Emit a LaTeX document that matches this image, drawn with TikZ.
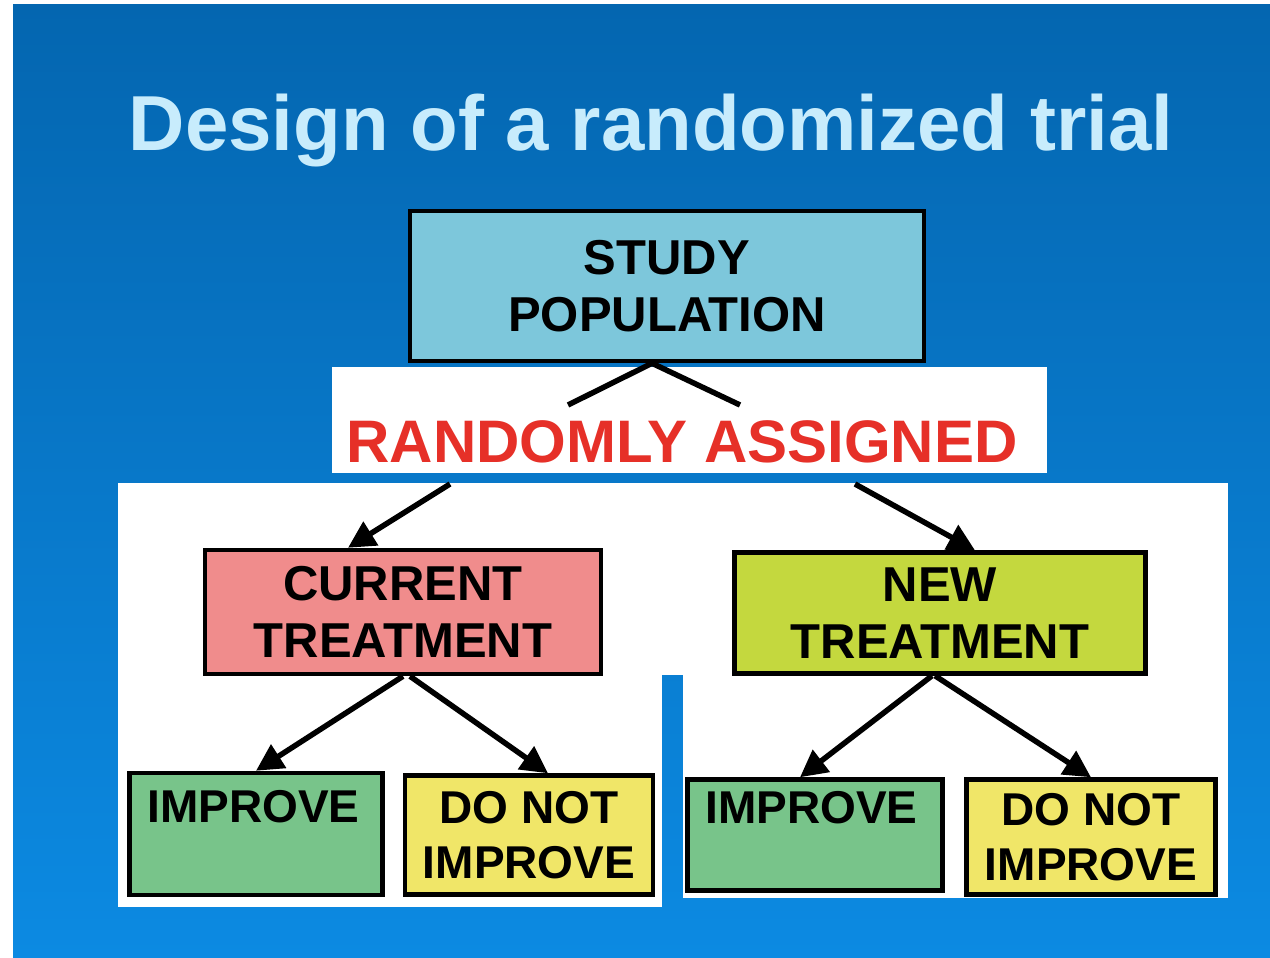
\documentclass[tikz,border=0pt]{standalone}
\usepackage{fontspec}
\setmainfont{Liberation Sans}
\usetikzlibrary{arrows.meta}

\definecolor{bgtop}{RGB}{4,102,176}
\definecolor{bgmid}{RGB}{5,106,182}
\definecolor{bgbottom}{RGB}{12,138,226}
\definecolor{titleblue}{RGB}{200,236,252}
\definecolor{studyblue}{RGB}{125,199,219}
\definecolor{currentred}{RGB}{240,140,140}
\definecolor{newgreen}{RGB}{196,216,62}
\definecolor{improvegreen}{RGB}{120,196,138}
\definecolor{notyellow}{RGB}{240,230,104}
\definecolor{randred}{RGB}{230,48,40}

\begin{document}
\begin{tikzpicture}[x=1pt,y=-1pt,
  box/.style={draw=black, line width=4.5pt, inner sep=0pt, align=center,
    font=\bfseries\fontsize{49}{57}\selectfont},
  smallbox/.style={box, inner xsep=18pt, font=\bfseries\fontsize{46}{55}\selectfont},
  arr/.style={line width=5.5pt, -{Triangle[length=27pt,width=27pt]}}]

% background
\useasboundingbox (0,0) rectangle (1270,958);
\fill[white] (0,0) rectangle (1270,958);
\shade[top color=bgtop, middle color=bgmid, bottom color=bgbottom] (13,5) rectangle (1270,958);

% title
\node[anchor=base, text=titleblue, font=\bfseries\fontsize{78}{78}\selectfont] (title) at (651,150) {Design of a randomized trial};

% white panels
\fill[white] (332,367) rectangle (1047,473);
\fill[white] (118,483) rectangle (1228,675);
\fill[white] (118,675) rectangle (662,907);
\fill[white] (683,675) rectangle (1228,898);

% study population
\node[box, fill=studyblue, minimum width=514pt, minimum height=150pt] (study) at (667,286) {STUDY\\POPULATION};

% treatments
\node[box, fill=currentred, minimum width=396pt, minimum height=124pt] (current) at (403,612) {CURRENT\\TREATMENT};
\node[box, fill=newgreen, minimum width=411pt, minimum height=121pt] (new) at (940,613) {NEW\\TREATMENT};

% outcomes
\node[smallbox, fill=improvegreen, align=left, text width=217pt, minimum width=253pt, minimum height=122pt] (impL) at (256,834) {IMPROVE\\\mbox{}};
\node[smallbox, fill=notyellow, minimum width=238pt, minimum height=119pt] (notL) at (529,835) {DO NOT\\IMPROVE};
\node[smallbox, fill=improvegreen, align=left, text width=219pt, minimum width=255pt, minimum height=111pt] (impR) at (815,835) {IMPROVE\\\mbox{}};
\node[smallbox, fill=notyellow, minimum width=249pt, minimum height=115pt] (notR) at (1091,837) {DO NOT\\IMPROVE};

% randomly assigned
\node[anchor=base, text=randred, font=\bfseries\fontsize{60}{60}\selectfont] (rand) at (682,462) {RANDOMLY ASSIGNED};

% arrows
\coordinate (cutL) at (568,405);
\coordinate (cutR) at (740,405);
\coordinate (resL) at (450,484);
\coordinate (resR) at (855,484);
\draw[line width=5.5pt] ([xshift=-15pt]study.south) -- (cutL);
\draw[line width=5.5pt] ([xshift=-15pt]study.south) -- (cutR);
\draw[arr] (resL) -- ([xshift=-55pt]current.north);
\draw[arr] (resR) -- ([xshift=35pt]new.north);
\draw[arr] (current.south) -- (impL.north);
\draw[arr] ([xshift=7pt]current.south) -- ([xshift=19pt]notL.north);
\draw[arr] ([xshift=-8pt]new.south) -- ([xshift=-15pt]impR.north);
\draw[arr] ([xshift=-5pt]new.south) -- (notR.north);

\end{tikzpicture}
\end{document}
